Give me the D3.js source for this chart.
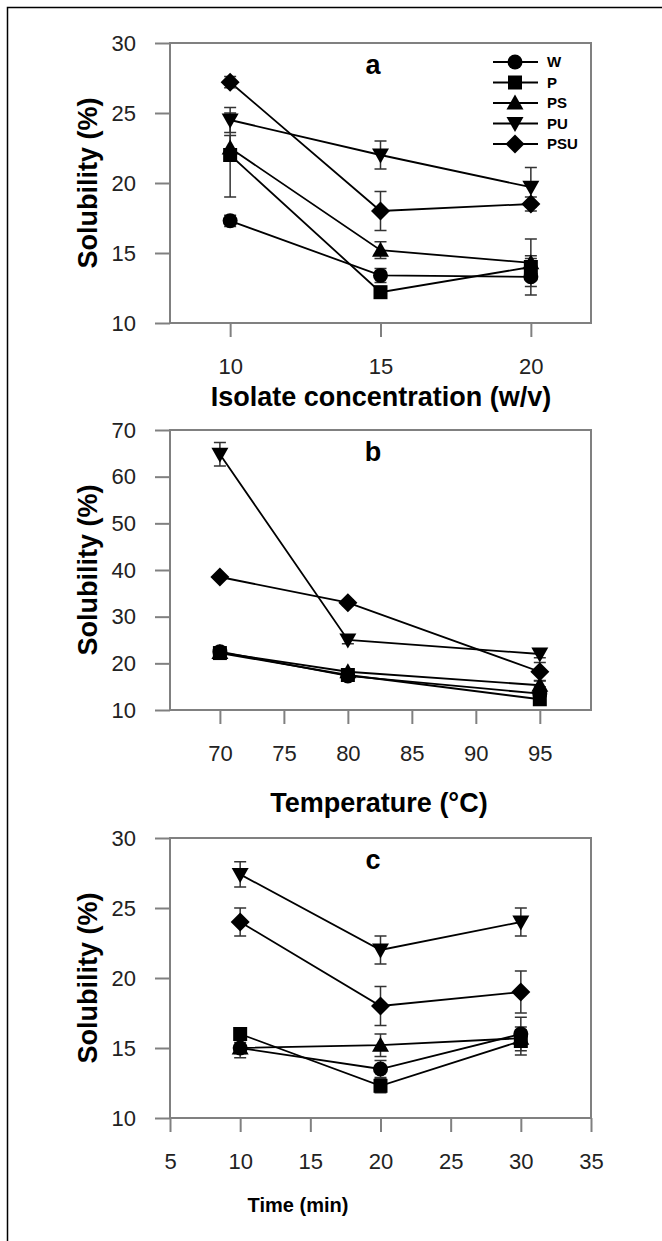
<!DOCTYPE html>
<html>
<head>
<meta charset="utf-8">
<script src="https://cdn.jsdelivr.net/npm/d3@7/dist/d3.min.js"></script>
<style>
  body { margin: 0; background: #fff; }
  svg { display: block; font-family: "Liberation Sans", Arial, sans-serif; }
</style>
</head>
<body>
<div class="canvas"></div>
<script>
// series, in legend order
var seriesNames = ['W', 'P', 'PS', 'PU', 'PSU'];

// panel a : isolate concentration
var concX = [10, 15, 20];
var concMeans = [[17.3, 13.4, 13.3], [22.0, 12.2, 14.0], [22.5, 15.2, 14.3], [24.5, 22.0, 19.7], [27.2, 18.0, 18.5]];
var concErrs  = [[0.4, 0.5, 1.3], [3.0, 0.4, 0.8], [0.9, 0.6, 1.7], [0.9, 1.0, 1.4], [0.4, 1.4, 0.5]];
var concXTicks = [10, 15, 20];
var concYTicks = [10, 15, 20, 25, 30];

// panel b : temperature
var tempX = [70, 80, 95];
var tempMeans = [[22.5, 17.3, 13.5], [22.2, 17.5, 12.3], [22.3, 18.2, 15.3], [64.8, 25.0, 22.0], [38.5, 33.0, 18.2]];
var tempErrs  = [[0.8, 0.6, 1.5], [0.6, 0.5, 0.8], [0.5, 0.6, 1.0], [2.5, 0.8, 0.8], [0.5, 0.6, 2.0]];
var tempXTicks = [70, 75, 80, 85, 90, 95];
var tempYTicks = [10, 20, 30, 40, 50, 60, 70];

// panel c : time
var timeX = [10, 20, 30];
var timeMeans = [[15.0, 13.5, 16.0], [16.0, 12.3, 15.5], [15.0, 15.2, 15.7], [27.4, 22.0, 24.0], [24.0, 18.0, 19.0]];
var timeErrs  = [[0.7, 0.6, 1.2], [0.4, 0.5, 1.0], [0.4, 0.8, 0.6], [0.9, 1.0, 1.0], [1.0, 1.4, 1.5]];
var timeXTicks = [5, 10, 15, 20, 25, 30, 35];
var timeYTicks = [10, 15, 20, 25, 30];

var width = 662, height = 1241;
var left = 170, right = 591, plotH = 280;

var svg = d3.select('.canvas').append('svg')
  .attr('width', width).attr('height', height);

// outer border (left + top only)
svg.append('path')
  .attr('d', 'M7.5,' + height + 'V7.5H' + width)
  .attr('fill', 'none').attr('stroke', '#000').attr('stroke-width', 1.5);

// marker shapes
function marker(i) {
  if (i === 0) return d3.symbol().type(d3.symbolCircle).size(Math.PI * 7.5 * 7.5)();
  if (i === 1) return 'M-7,-7H7V7H-7Z';
  if (i === 2) return 'M0,-8.5L8.5,6.5H-8.5Z';
  if (i === 3) return 'M0,8.5L8.5,-6.5H-8.5Z';
  return 'M0,-9.5L9.5,0L0,9.5L-9.5,0Z';
}

var panels = [
  { xs: concX, means: concMeans, errs: concErrs, xDomain: [8, 22], xTicks: concXTicks,
    yDomain: [10, 30], yTicks: concYTicks, top: 43, label: 'a',
    title: 'Isolate concentration (w/v)', titleX: 381, titleY: 406, titleSize: 27, legend: true },
  { xs: tempX, means: tempMeans, errs: tempErrs, xDomain: [66.1, 99], xTicks: tempXTicks,
    yDomain: [10, 70], yTicks: tempYTicks, top: 430, label: 'b',
    title: 'Temperature (°C)', titleX: 379, titleY: 812, titleSize: 27 },
  { xs: timeX, means: timeMeans, errs: timeErrs, xDomain: [5, 35], xTicks: timeXTicks,
    yDomain: [10, 30], yTicks: timeYTicks, top: 838, label: 'c',
    title: 'Time (min)', titleX: 298, titleY: 1212, titleSize: 20 }
];

panels.forEach(function(p) {
  var g = svg.append('g');
  var x = d3.scaleLinear().domain(p.xDomain).range([left, right]);
  var y = d3.scaleLinear().domain(p.yDomain).range([p.top + plotH, p.top]);

  // axes
  var yAxis = g.append('g').attr('transform', 'translate(' + left + ',0)')
    .call(d3.axisLeft(y).tickValues(p.yTicks).tickSize(15).tickPadding(19));
  var xAxis = g.append('g').attr('transform', 'translate(0,' + (p.top + plotH) + ')')
    .call(d3.axisBottom(x).tickValues(p.xTicks).tickSize(14).tickPadding(21));
  [yAxis, xAxis].forEach(function(a) {
    a.select('.domain').remove();
    a.selectAll('line').attr('stroke', '#808080').attr('stroke-width', 2);
    a.selectAll('text').attr('font-size', 22).attr('fill', '#222')
      .attr('font-family', '"Liberation Sans", Arial, sans-serif');
  });

  // frame
  g.append('rect')
    .attr('x', left).attr('y', p.top)
    .attr('width', right - left).attr('height', plotH)
    .attr('fill', 'none').attr('stroke', '#808080').attr('stroke-width', 2);

  var line = d3.line()
    .x(function(d) { return x(d[0]); })
    .y(function(d) { return y(d[1]); });

  // lines
  p.means.forEach(function(m) {
    g.append('path')
      .datum(m.map(function(v, j) { return [p.xs[j], v]; }))
      .attr('d', line)
      .attr('fill', 'none').attr('stroke', '#000').attr('stroke-width', 1.8);
  });

  // error bars
  p.means.forEach(function(m, i) {
    m.forEach(function(v, j) {
      var cx = x(p.xs[j]), y0 = y(v - p.errs[i][j]), y1 = y(v + p.errs[i][j]);
      g.append('path')
        .attr('d', 'M' + cx + ',' + y0 + 'V' + y1 +
          'M' + (cx - 6) + ',' + y0 + 'H' + (cx + 6) +
          'M' + (cx - 6) + ',' + y1 + 'H' + (cx + 6))
        .attr('fill', 'none').attr('stroke', '#333').attr('stroke-width', 1.5);
    });
  });

  // markers
  p.means.forEach(function(m, i) {
    g.selectAll(null)
      .data(m)
      .enter()
      .append('path')
      .attr('d', marker(i))
      .attr('transform', function(d, j) { return 'translate(' + x(p.xs[j]) + ',' + y(d) + ')'; })
      .attr('fill', '#000');
  });

  // panel letter
  g.append('text')
    .attr('x', 373).attr('y', p.top + 31)
    .attr('text-anchor', 'middle').attr('font-weight', 'bold').attr('font-size', 27)
    .text(p.label);

  // y title
  g.append('text')
    .attr('transform', 'translate(97,' + (p.top + plotH / 2) + ') rotate(-90)')
    .attr('text-anchor', 'middle').attr('font-weight', 'bold').attr('font-size', 27)
    .text('Solubility (%)');

  // x title
  g.append('text')
    .attr('x', p.titleX).attr('y', p.titleY)
    .attr('text-anchor', 'middle').attr('font-weight', 'bold').attr('font-size', p.titleSize)
    .text(p.title);

  if (p.legend) {
    var leg = g.append('g');
    seriesNames.forEach(function(name, i) {
      var ly = 62 + i * 20.5;
      leg.append('line')
        .attr('x1', 493).attr('x2', 538).attr('y1', ly).attr('y2', ly)
        .attr('stroke', '#000').attr('stroke-width', 1.8);
      leg.append('path')
        .attr('d', marker(i))
        .attr('transform', 'translate(515,' + ly + ')')
        .attr('fill', '#000');
      leg.append('text')
        .attr('x', 547).attr('y', ly).attr('dy', '0.35em')
        .attr('font-weight', 'bold').attr('font-size', 15)
        .text(name);
    });
  }
});
</script>
</body>
</html>
